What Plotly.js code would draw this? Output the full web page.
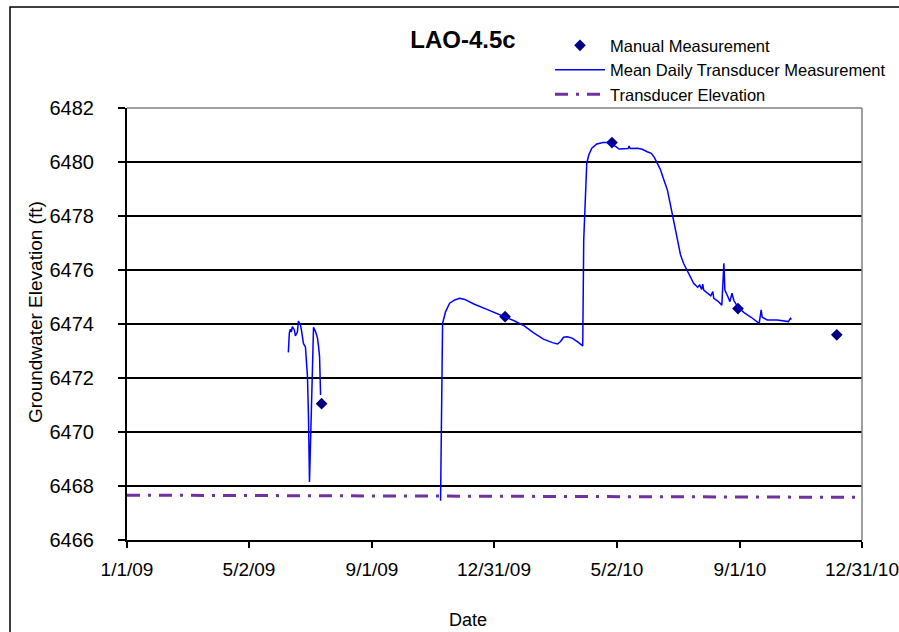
<!DOCTYPE html>
<html>
<head>
<meta charset="utf-8">
<script src="https://cdn.plot.ly/plotly-3.0.1.min.js"></script>
<style>
  html, body { margin: 0; padding: 0; background: #ffffff; }
  #chart { width: 899px; height: 632px; }
</style>
</head>
<body>
<div id="chart"></div>
<script>
// ---- data ----
var manualDates = ['2009-07-13', '2010-01-11', '2010-04-27', '2010-08-30', '2010-12-06'];
var manualValues = [6471.05, 6474.27, 6480.72, 6474.57, 6473.60];

var transducerDates = [
  '2009-06-10','2009-06-11','2009-06-12','2009-06-13','2009-06-14','2009-06-16','2009-06-17',
  '2009-06-19','2009-06-20','2009-06-22','2009-06-23','2009-06-24','2009-06-25','2009-06-27',
  '2009-06-29','2009-06-30','2009-07-01','2009-07-03','2009-07-04','2009-07-05','2009-07-07',
  '2009-07-09','2009-07-10','2009-07-11','2009-07-12',
  '2009-09-01',
  '2009-11-08','2009-11-09','2009-11-10','2009-11-13','2009-11-17','2009-11-22','2009-11-27',
  '2009-12-02','2009-12-11','2009-12-24','2010-01-03','2010-01-11','2010-01-20','2010-01-30',
  '2010-02-08','2010-02-18','2010-02-27','2010-03-04','2010-03-07','2010-03-10','2010-03-14',
  '2010-03-19','2010-03-24','2010-03-29','2010-03-30','2010-04-01','2010-04-02','2010-04-04',
  '2010-04-07','2010-04-12','2010-04-18','2010-04-23','2010-05-01','2010-05-04','2010-05-09',
  '2010-05-13','2010-05-14','2010-05-15','2010-05-22','2010-05-27','2010-06-01','2010-06-05',
  '2010-06-08','2010-06-11','2010-06-14','2010-06-17','2010-06-21','2010-06-24','2010-06-27',
  '2010-06-30','2010-07-02','2010-07-04','2010-07-07','2010-07-11','2010-07-14','2010-07-17',
  '2010-07-21','2010-07-23','2010-07-25','2010-07-26','2010-07-27','2010-07-31','2010-08-03',
  '2010-08-05','2010-08-06','2010-08-10','2010-08-14','2010-08-16','2010-08-17','2010-08-20',
  '2010-08-22','2010-08-24','2010-08-26','2010-08-30','2010-09-05','2010-09-12','2010-09-20',
  '2010-09-22','2010-09-23','2010-09-28','2010-10-08','2010-10-19','2010-10-21','2010-10-22'
];
var transducerValues = [
  6472.95, 6473.66, 6473.81, 6473.70, 6473.90, 6473.78, 6473.56,
  6473.70, 6474.11, 6473.96, 6473.78, 6473.47, 6473.28, 6473.14,
  6472.05, 6470.57, 6468.15, 6471.00, 6472.85, 6473.88, 6473.72,
  6473.47, 6473.16, 6472.79, 6471.37,
  null,
  6467.45, 6471.93, 6474.02, 6474.46, 6474.77, 6474.89, 6474.95,
  6474.91, 6474.74, 6474.54, 6474.40, 6474.26, 6474.12, 6473.93,
  6473.68, 6473.44, 6473.31, 6473.26, 6473.35, 6473.51, 6473.53,
  6473.47, 6473.34, 6473.19, 6477.11, 6479.09, 6479.95, 6480.26,
  6480.51, 6480.67, 6480.72, 6480.72, 6480.57, 6480.48, 6480.48,
  6480.50, 6480.59, 6480.50, 6480.51, 6480.47, 6480.38, 6480.32,
  6480.17, 6479.95, 6479.73, 6479.39, 6478.96, 6478.41, 6477.85,
  6477.40, 6476.95, 6476.56, 6476.25, 6475.94, 6475.69, 6475.51,
  6475.36, 6475.44, 6475.28, 6475.48, 6475.26, 6475.14, 6475.04,
  6475.20, 6474.95, 6474.85, 6474.70, 6476.25, 6475.26, 6475.01,
  6474.83, 6475.14, 6474.86, 6474.62, 6474.42, 6474.25, 6474.02,
  6474.52, 6474.25, 6474.15, 6474.15, 6474.09, 6474.21, 6474.17
];

var elevationDates = ['2009-01-01', '2010-12-31'];
var elevationValues = [6467.66, 6467.58];

var xTickDates = ['2009-01-01', '2009-05-02', '2009-09-01', '2009-12-31', '2010-05-02', '2010-09-01', '2010-12-31'];
var xTickLabels = ['1/1/09', '5/2/09', '9/1/09', '12/31/09', '5/2/10', '9/1/10', '12/31/10'];

var seriesNames = ['Manual Measurement', 'Mean Daily Transducer Measurement', 'Transducer Elevation'];
var chartTitle = 'LAO-4.5c';
var yTitle = 'Groundwater Elevation (ft)';
var xTitle = 'Date';

// ---- chart ----
var FONT = 'Arial, "Liberation Sans", sans-serif';

var traces = [
  {
    x: manualDates, y: manualValues, name: seriesNames[0],
    type: 'scatter', mode: 'markers',
    marker: { symbol: 'diamond', size: 9, color: '#000080' }
  },
  {
    x: transducerDates, y: transducerValues, name: seriesNames[1],
    type: 'scatter', mode: 'lines', connectgaps: false,
    line: { color: '#0000FF', width: 1.5 }
  },
  {
    x: elevationDates, y: elevationValues, name: seriesNames[2],
    type: 'scatter', mode: 'lines',
    line: { color: '#7030A0', width: 3, dash: '13px,8px,3px,8px' }
  }
];

var layout = {
  width: 899, height: 632,
  margin: { l: 127, r: 37, t: 108, b: 92, pad: 0, autoexpand: false },
  paper_bgcolor: '#ffffff', plot_bgcolor: '#ffffff',
  font: { family: FONT, color: '#000000', size: 20 },
  showlegend: true,
  title: {
    text: '<b>' + chartTitle + '</b>',
    font: { family: FONT, size: 24, color: '#000000' },
    x: 463 / 899, xref: 'container', xanchor: 'center',
    y: 1 - 40 / 632, yref: 'container', yanchor: 'middle'
  },
  legend: {
    x: (550 - 127) / 735, y: 1.185, xanchor: 'left', yanchor: 'top',
    bgcolor: 'rgba(0,0,0,0)', borderwidth: 0,
    font: { family: FONT, size: 16.5, color: '#000000' },
    itemwidth: 50, tracegroupgap: 0
  },
  xaxis: {
    type: 'date',
    range: ['2009-01-01', '2010-12-31'],
    tickmode: 'array', tickvals: xTickDates, ticktext: xTickLabels,
    showgrid: false, zeroline: false,
    showline: true, linecolor: '#000000', linewidth: 2,
    ticks: 'outside', ticklen: 6, tickwidth: 1.5, tickcolor: '#000000',
    tickfont: { family: FONT, size: 19, color: '#000000' },
    ticklabelstandoff: 5,
    ticklabeloverflow: 'allow'
  },
  yaxis: {
    range: [6466, 6482], dtick: 2, tick0: 6466,
    showgrid: true, gridcolor: '#000000', gridwidth: 2,
    zeroline: false,
    showline: true, linecolor: '#000000', linewidth: 2,
    ticks: 'outside', ticklen: 7, tickwidth: 1.5, tickcolor: '#000000',
    tickfont: { family: FONT, size: 20, color: '#000000' },
    tickformat: 'd',
    ticklabelstandoff: 20
  },
  annotations: [
    {
      text: yTitle, textangle: -90,
      xref: 'paper', yref: 'paper',
      x: (35 - 127) / 735, y: (540 - 312) / 432,
      xanchor: 'center', yanchor: 'middle', showarrow: false,
      font: { family: FONT, size: 19, color: '#000000' }
    },
    {
      text: xTitle,
      xref: 'paper', yref: 'paper',
      x: (468 - 127) / 735, y: (540 - 620) / 432,
      xanchor: 'center', yanchor: 'middle', showarrow: false,
      font: { family: FONT, size: 18, color: '#000000' }
    }
  ],
  shapes: [
    { type: 'line', xref: 'paper', yref: 'paper', x0: 0, x1: 1, y0: 1, y1: 1,
      line: { color: '#808080', width: 1.5 }, layer: 'above' },
    { type: 'line', xref: 'paper', yref: 'paper', x0: 1, x1: 1, y0: 0, y1: 1,
      line: { color: '#808080', width: 1.5 }, layer: 'above' },
    { type: 'rect', xref: 'paper', yref: 'paper',
      x0: (10 - 127) / 735, x1: (910 - 127) / 735,
      y0: (540 - 645) / 432, y1: (540 - 7) / 432,
      line: { color: '#000000', width: 1.5 }, fillcolor: 'rgba(0,0,0,0)', layer: 'above' }
  ]
};

Plotly.newPlot('chart', traces, layout, { displayModeBar: false, staticPlot: true });
</script>
</body>
</html>
